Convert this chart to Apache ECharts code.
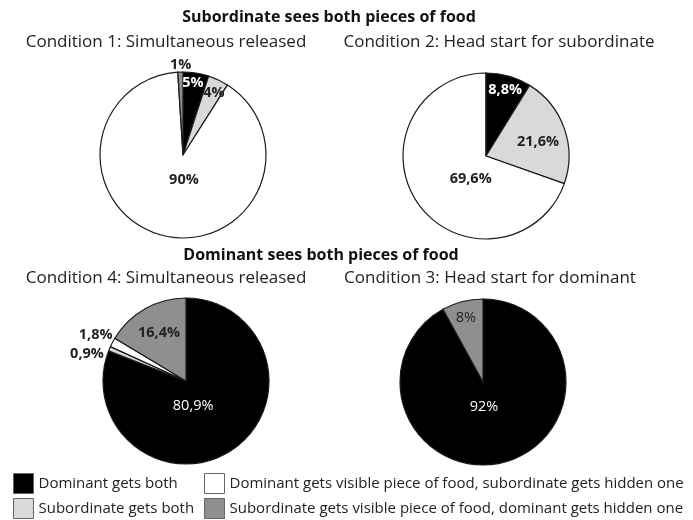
<!DOCTYPE html>
<html>
<head>
<meta charset="utf-8">
<script src="https://cdn.jsdelivr.net/npm/echarts@6/dist/echarts.min.js"></script>
<style>
  html, body { margin: 0; padding: 0; background: #fff; }
  #chart { width: 693px; height: 520px; }
</style>
</head>
<body>
<div id="chart"></div>
<script>
// categories (legend order = slice order, clockwise from 12 o'clock)
const categories = [
  "Dominant gets both",
  "Subordinate gets both",
  "Dominant gets visible piece of food, subordinate gets hidden one",
  "Subordinate gets visible piece of food, dominant gets hidden one",
];
// percentages per condition
const cond1 = [5, 4, 90, 1];
const cond2 = [8.8, 21.6, 69.6, 0];
const cond4 = [80.9, 0.9, 1.8, 16.4];
const cond3 = [92, 0, 0, 8];

const sectionTitles = [
  "Subordinate sees both pieces of food",
  "Dominant sees both pieces of food",
];
const conditionTitles = [
  "Condition 1: Simultaneous released",
  "Condition 2: Head start for subordinate",
  "Condition 4: Simultaneous released",
  "Condition 3: Head start for dominant",
];

const colors = ["#000000", "#d9d9d9", "#ffffff", "#8f8f8f"];
const FONT = "Open Sans";

// label nudges from the default "inside" spot
const nudges = [
  [[3, -28], [12, -22], [12, -18], [-1, -46]],
  [[7, -23], [10, 1], [21, -3], [0, 0]],
  [[-18, -12], [-58, -10], [-51, -25], [-5, -9]],
  [[-10, -18], [0, 0], [0, 0], [-6, -21]],
];
const boldLabels = [true, true, true, false];

function fmt(v) {
  return String(v).replace(".", ",") + "%";
}

function pie(values, idx, center) {
  return {
    type: "pie",
    center: center,
    radius: 83,
    startAngle: 90,
    clockwise: true,
    silent: true,
    animation: false,
    avoidLabelOverlap: false,
    labelLayout: { hideOverlap: false },
    emphasis: { disabled: true },
    itemStyle: { borderColor: "#1a1a1a", borderWidth: 1.2 },
    labelLine: { show: false },
    data: values.map((v, i) => ({
      name: categories[i],
      value: v,
      itemStyle: { color: colors[i] },
      label: {
        show: v > 0,
        position: "inside",
        formatter: fmt(v),
        offset: nudges[idx][i],
        color: i === 0 ? "#fff" : "#222",
        fontFamily: FONT,
        fontSize: 14.5,
        fontWeight: boldLabels[idx] && !(idx === 2 && i === 0) ? "bold" : "normal",
      },
    })),
  };
}

const myChart = echarts.init(document.getElementById("chart"));

const titleStyle = { fontFamily: FONT, fontSize: 16, fontWeight: "bold", color: "#111" };
const condStyle = { fontFamily: FONT, fontSize: 17, fontWeight: "normal", color: "#222" };

// one legend per item so the 2x2 grid matches the original
function legendItem(name, left, top) {
  return {
    orient: "vertical",
    left: left,
    top: top,
    padding: 0,
    icon: "rect",
    itemWidth: 20,
    itemHeight: 20,
    selectedMode: false,
    data: [name],
    textStyle: { fontFamily: FONT, fontSize: 15, color: "#222" },
    itemStyle: { borderColor: "#666", borderWidth: 1 },
  };
}

myChart.setOption({
  backgroundColor: "#fff",
  animation: false,
  color: colors,
  title: [
    { text: sectionTitles[0], left: 329, top: 9, textAlign: "center", textStyle: titleStyle },
    { text: conditionTitles[0], left: 166, top: 34, textAlign: "center", textStyle: condStyle },
    { text: conditionTitles[1], left: 499, top: 34, textAlign: "center", textStyle: condStyle },
    { text: sectionTitles[1], left: 321, top: 247, textAlign: "center", textStyle: titleStyle },
    { text: conditionTitles[2], left: 166, top: 270, textAlign: "center", textStyle: condStyle },
    { text: conditionTitles[3], left: 490, top: 270, textAlign: "center", textStyle: condStyle },
  ].map((t) => Object.assign({ padding: 0 }, t)),
  legend: [
    legendItem(categories[0], 13, 473),
    legendItem(categories[1], 13, 498),
    legendItem(categories[2], 204, 473),
    legendItem(categories[3], 204, 498),
  ],
  series: [
    pie(cond1, 0, [183, 155]),
    pie(cond2, 1, [486, 156]),
    pie(cond4, 2, [186, 381]),
    pie(cond3, 3, [483, 382]),
  ],
});

window.onresize = function () {
  myChart.resize();
};
</script>
</body>
</html>
